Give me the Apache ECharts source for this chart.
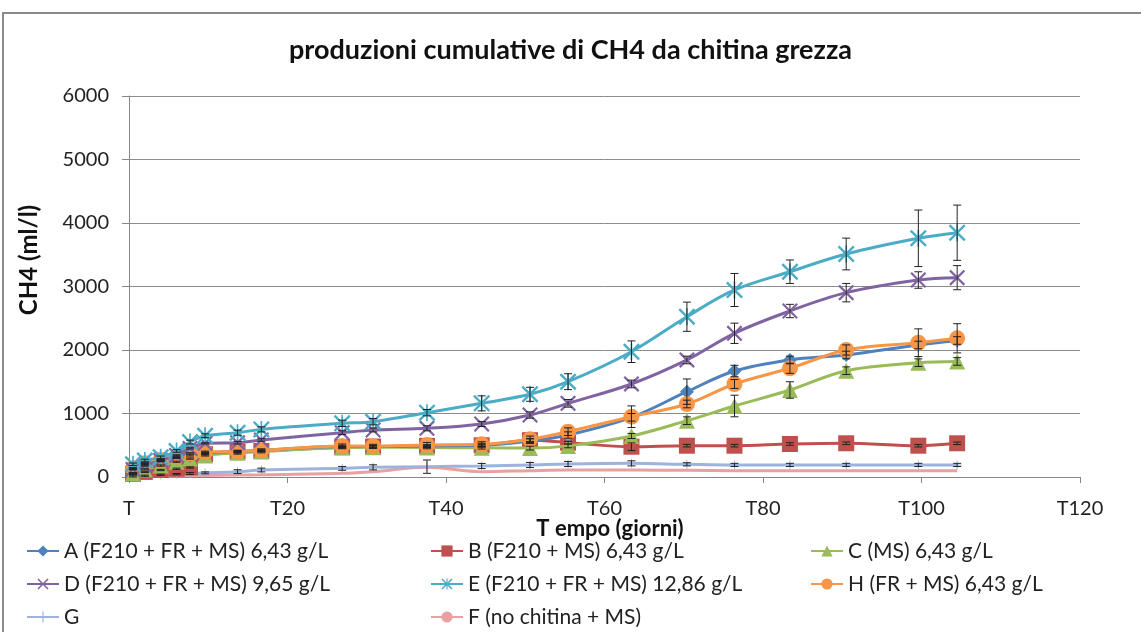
<!DOCTYPE html>
<html>
<head>
<meta charset="utf-8">
<title>produzioni cumulative di CH4 da chitina grezza</title>
<script src="https://cdn.jsdelivr.net/npm/echarts@6/dist/echarts.min.js"></script>
<style>
  html, body { margin: 0; padding: 0; background: #fff; }
  #chart { width: 1141px; height: 632px; }
</style>
</head>
<body>
<div id="chart"></div>
<script>
// Sampling days (giorni)
const days = [0.5, 2, 4, 6, 7.7, 9.6, 13.7, 16.7, 26.9, 30.8, 37.6, 44.5, 50.6, 55.4, 63.4, 70.4, 76.4, 83.4, 90.5, 99.6, 104.5];

// Cumulative CH4 (ml/l) per reactor
const serA = [130, 200, 250, 300, 340, 380, 400, 420, 480, 480, 490, 500, 567, 661, 940, 1344, 1669, 1843, 1921, 2079, 2150];
const serB = [50, 80, 110, 130, 150, 360, 400, 410, 470, 480, 490, 500, 580, 540, 477, 493, 493, 520, 531, 493, 531];
const serC = [60, 120, 180, 240, 290, 340, 380, 400, 465, 470, 465, 460, 455, 490, 646, 887, 1118, 1370, 1674, 1800, 1820];
const serD = [120, 180, 260, 340, 450, 530, 540, 583, 698, 740, 767, 835, 976, 1160, 1465, 1843, 2263, 2614, 2903, 3102, 3139];
const serE = [200, 260, 310, 410, 550, 650, 698, 750, 845, 871, 1013, 1160, 1302, 1501, 1973, 2524, 2945, 3233, 3512, 3759, 3847];
const serH = [136, 215, 268, 320, 373, 398, 400, 420, 490, 485, 504, 515, 594, 714, 950, 1150, 1465, 1712, 2000, 2115, 2184];
const serG = [10, 20, 35, 45, 55, 65, 84, 110, 136, 152, 163, 173, 189, 205, 215, 200, 190, 190, 190, 190, 190];
const serF = [0, 5, 15, 20, 22, 25, 30, 35, 58, 84, 152, 84, 100, 110, 110, 105, 100, 100, 100, 100, 100];

// Standard deviations (±) for error bars
const errA = [10, 10, 10, 10, 10, 10, 20, 20, 20, 20, 20, 30, 40, 50, 60, 200, 90, 60, 60, 60, 60];
const errB = [10, 10, 10, 10, 10, 10, 10, 10, 10, 10, 10, 10, 20, 20, 60, 20, 20, 20, 20, 20, 20];
const errC = [10, 10, 10, 10, 10, 10, 20, 20, 20, 20, 20, 20, 30, 30, 40, 60, 170, 130, 60, 60, 60];
const errD = [10, 10, 10, 10, 10, 10, 20, 20, 30, 30, 40, 40, 50, 60, 60, 60, 160, 105, 145, 130, 190];
const errE = [20, 20, 20, 20, 30, 30, 40, 40, 50, 50, 50, 118, 110, 125, 170, 230, 260, 185, 250, 445, 435];
const errH = [10, 10, 10, 10, 10, 10, 20, 20, 30, 30, 40, 40, 50, 60, 170, 60, 70, 80, 80, 218, 230];
const errG = [10, 10, 10, 10, 15, 15, 30, 30, 30, 40, 105, 40, 40, 40, 40, 25, 25, 25, 25, 25, 25];

// Axis tick labels
const xTickLabels = { 0: 'T', 20: 'T20', 40: 'T40', 60: 'T60', 80: 'T80', 100: 'T100', 120: 'T120' };

const names = {
  A: 'A (F210 + FR + MS) 6,43 g/L',
  B: 'B (F210 + MS) 6,43 g/L',
  C: 'C (MS) 6,43 g/L',
  D: 'D (F210 + FR + MS) 9,65 g/L',
  E: 'E (F210 + FR + MS) 12,86 g/L',
  H: 'H (FR + MS) 6,43 g/L',
  G: 'G',
  F: 'F (no chitina + MS)'
};

const colors = {
  A: '#4F81BD', B: '#C0504D', C: '#9BBB59', D: '#8064A2',
  E: '#4BACC6', H: '#F79646', G: '#9DB3DE', F: '#E6A1A0'
};

// Marker shapes
const symX = 'path://M0,2 L2,0 L10,8 L18,0 L20,2 L12,10 L20,18 L18,20 L10,12 L2,20 L0,18 L8,10 Z';
const symStar = symX + ' M9,0 L11,0 L11,20 L9,20 Z';
const symPlus = 'path://M9,0 L11,0 L11,9 L20,9 L20,11 L11,11 L11,20 L9,20 L9,11 L0,11 L0,9 L9,9 Z';

const pairs = ys => days.map((d, i) => [d, ys[i]]);
const triples = (ys, es) => days.map((d, i) => [d, ys[i], es[i]]);

function lineSeries(key, ys, symbol, size, z) {
  return {
    name: names[key],
    type: 'line',
    data: pairs(ys),
    smooth: 0.35,
    symbol: symbol,
    symbolSize: size,
    showSymbol: symbol !== 'none',
    z: z,
    lineStyle: { color: colors[key], width: 3 },
    itemStyle: { color: colors[key], borderWidth: 0 },
    emphasis: { disabled: true }
  };
}

function errorSeries(ys, es, z) {
  return {
    type: 'custom',
    data: triples(ys, es),
    encode: { x: 0, y: 1 },
    z: z,
    silent: true,
    renderItem: function (params, api) {
      const x = api.value(0), y = api.value(1), e = api.value(2);
      const top = api.coord([x, y + e]);
      const bot = api.coord([x, y - e]);
      const w = 4;
      const st = { stroke: '#222', lineWidth: 1 };
      return {
        type: 'group',
        children: [
          { type: 'line', shape: { x1: top[0], y1: top[1], x2: bot[0], y2: bot[1] }, style: st },
          { type: 'line', shape: { x1: top[0] - w, y1: top[1], x2: top[0] + w, y2: top[1] }, style: st },
          { type: 'line', shape: { x1: bot[0] - w, y1: bot[1], x2: bot[0] + w, y2: bot[1] }, style: st }
        ]
      };
    }
  };
}

const FONT = 'Lato';
const legendBase = {
  orient: 'vertical',
  top: 540,
  height: 95,
  padding: 0,
  itemWidth: 32,
  itemHeight: 14,
  itemGap: 11,
  textStyle: { fontFamily: FONT, fontSize: 21, lineHeight: 22, color: '#222' },
  selectedMode: false
};

const chart = echarts.init(document.getElementById('chart'), null, { renderer: 'canvas' });

chart.setOption({
  animation: false,
  backgroundColor: '#fff',
  title: {
    text: 'produzioni cumulative di CH4 da chitina grezza',
    left: 'center',
    top: 32,
    textStyle: { fontFamily: FONT, fontSize: 27, fontWeight: 'bold', color: '#111' }
  },
  graphic: [
    { type: 'rect', shape: { x: 3, y: 13, width: 1170, height: 650 }, style: { fill: 'none', stroke: '#8a8a8a', lineWidth: 2 }, silent: true },
    { type: 'text', x: 610, y: 529, style: { text: 'T empo (giorni)', font: 'bold 22px Lato', fill: '#111', align: 'center', verticalAlign: 'middle' }, silent: true },
    { type: 'text', x: 29, y: 260, rotation: Math.PI / 2, style: { text: 'CH4 (ml/l)', font: 'bold 24px Lato', fill: '#111', align: 'center', verticalAlign: 'middle' }, silent: true }
  ],
  legend: [
    Object.assign({}, legendBase, { left: 26, data: [names.A, names.D, names.G] }),
    Object.assign({}, legendBase, { left: 430, data: [names.B, names.E, names.F] }),
    Object.assign({}, legendBase, { left: 810, data: [names.C, names.H] })
  ],
  grid: { left: 129, right: 61, top: 96, bottom: 155 },
  xAxis: {
    type: 'value',
    min: 0,
    max: 120,
    interval: 20,
    axisLine: { lineStyle: { color: '#868686', width: 1 } },
    axisTick: { show: true, inside: false, length: 6, lineStyle: { color: '#868686' } },
    axisLabel: { fontFamily: FONT, fontSize: 20, color: '#222', margin: 22, formatter: v => xTickLabels[v] },
    splitLine: { show: false }
  },
  yAxis: {
    type: 'value',
    min: 0,
    max: 6000,
    interval: 1000,
    axisLine: { show: true, lineStyle: { color: '#868686', width: 1 } },
    axisTick: { show: true, inside: false, length: 7, lineStyle: { color: '#868686' } },
    axisLabel: { fontFamily: FONT, fontSize: 20, color: '#222', margin: 20, formatter: v => String(v) },
    splitLine: { show: true, lineStyle: { color: '#8c8c8c', width: 1 } }
  },
  series: [
    lineSeries('F', serF, 'none', 0, 2),
    lineSeries('G', serG, symPlus, 9, 3),
    lineSeries('B', serB, 'rect', 16, 4),
    lineSeries('C', serC, 'triangle', 16, 5),
    lineSeries('A', serA, 'diamond', 14, 6),
    lineSeries('H', serH, 'circle', 16, 7),
    lineSeries('D', serD, symX, 16, 8),
    lineSeries('E', serE, symStar, 17, 9),
    errorSeries(serG, errG, 10),
    errorSeries(serB, errB, 10),
    errorSeries(serC, errC, 10),
    errorSeries(serA, errA, 10),
    errorSeries(serH, errH, 10),
    errorSeries(serD, errD, 10),
    errorSeries(serE, errE, 10)
  ]
});
</script>
</body>
</html>
